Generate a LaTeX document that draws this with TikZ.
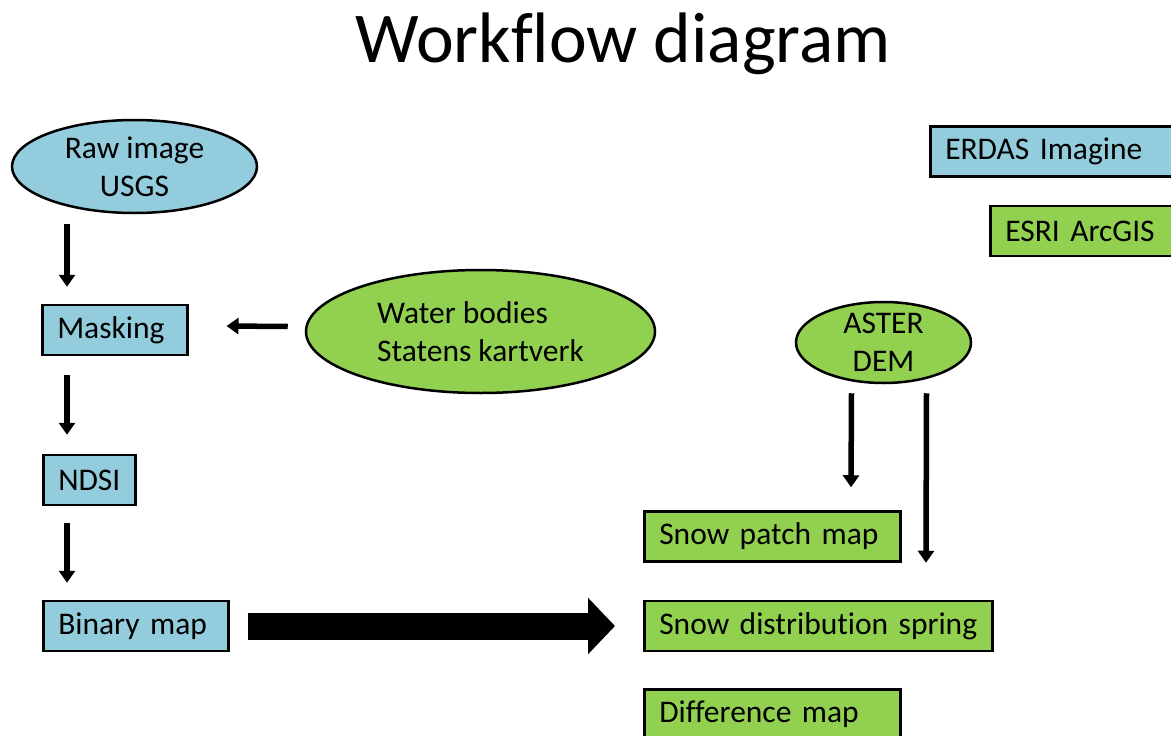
\documentclass[tikz,border=0pt]{standalone}
\usepackage{fontspec}
\setmainfont{Carlito}[Ligatures=NoCommon]
\usetikzlibrary{calc,arrows.meta,shapes.geometric,positioning}
\definecolor{bluefill}{RGB}{147,205,221}
\definecolor{greenfill}{RGB}{146,208,80}
\tikzset{
  txt/.style={font=\fontsize{31.5}{38}\selectfont},
  box/.style={txt, draw=black, line width=2.5pt, rectangle, anchor=west,
    minimum height=50pt, inner xsep=15pt, align=left, text width=#1},
  bluebox/.style={box=#1, fill=bluefill},
  greenbox/.style={box=#1, fill=greenfill},
  oval/.style={txt, draw=black, line width=2.5pt, ellipse, inner sep=-6pt, align=center},
  arr/.style={line width=5.5pt, -{Triangle[width=16pt,length=12pt]}},
  bigarr/.style={line width=27pt, -{Triangle[width=55pt,length=27pt]}}
}
\begin{document}
\begin{tikzpicture}[x=1pt,y=-1pt]
\useasboundingbox (0,0) rectangle (1171,736);
\clip (0,0) rectangle (1171,736);
\node[anchor=base, font=\fontsize{71.5}{84}\selectfont] (title) at (623,62) {Workflow diagram};

% left column
\node[oval, fill=bluefill, minimum width=245pt, minimum height=93pt] (raw) at (134.5,166.5) {Raw image\\USGS};
\node[bluebox=115pt] (masking) at (41,330) {Masking};
\node[bluebox=62pt] (ndsi) at (42,480) {NDSI};
\node[bluebox=155pt] (binary) at (42,626) {Binary map};
\node[oval, fill=greenfill, minimum width=349pt, minimum height=123pt, align=left] (water) at (480.5,331.5) {Water bodies\\Statens kartverk};

% right side
\node[bluebox=230pt] (erdas) at (929,151.5) {ERDAS Imagine};
\node[greenbox=170pt] (esri) at (989,231) {ESRI ArcGIS};
\node[oval, fill=greenfill, minimum width=175pt, minimum height=81pt] (aster) at (883.5,342.5) {ASTER\\DEM};
\node[greenbox=226pt] (snowpatch) at (643,536.5) {Snow patch map};
\node[greenbox=318pt] (snowdist) at (643,626) {\mbox{Snow distribution spring}};
\node[greenbox=226pt] (diff) at (643,714.5) {Difference map};

\draw[arr] ($(masking.north west)+(26,-80)$) -- ($(masking.north west)+(26,-17)$);
\draw[arr] ($(water.west)+(-17,-5)$) -- ($(masking.east)+(38,-4)$);
\draw[arr] ($(masking.south west)+(26,19)$) -- ($(ndsi.north west)+(25,-19)$);
\draw[arr] ($(ndsi.south west)+(25,17)$) -- ($(binary.north west)+(25,-17)$);
\draw[arr] ($(aster.south)+(-32,9)$) -- ($(snowpatch.north west)+(208,-23)$);
\draw[arr] ($(aster.south)+(43,9)$) -- ($(snowdist.north west)+(283,-37)$);
\draw[bigarr] ($(binary.east)+(18,0)$) -- ($(snowdist.west)+(-28,0)$);
\end{tikzpicture}
\end{document}
